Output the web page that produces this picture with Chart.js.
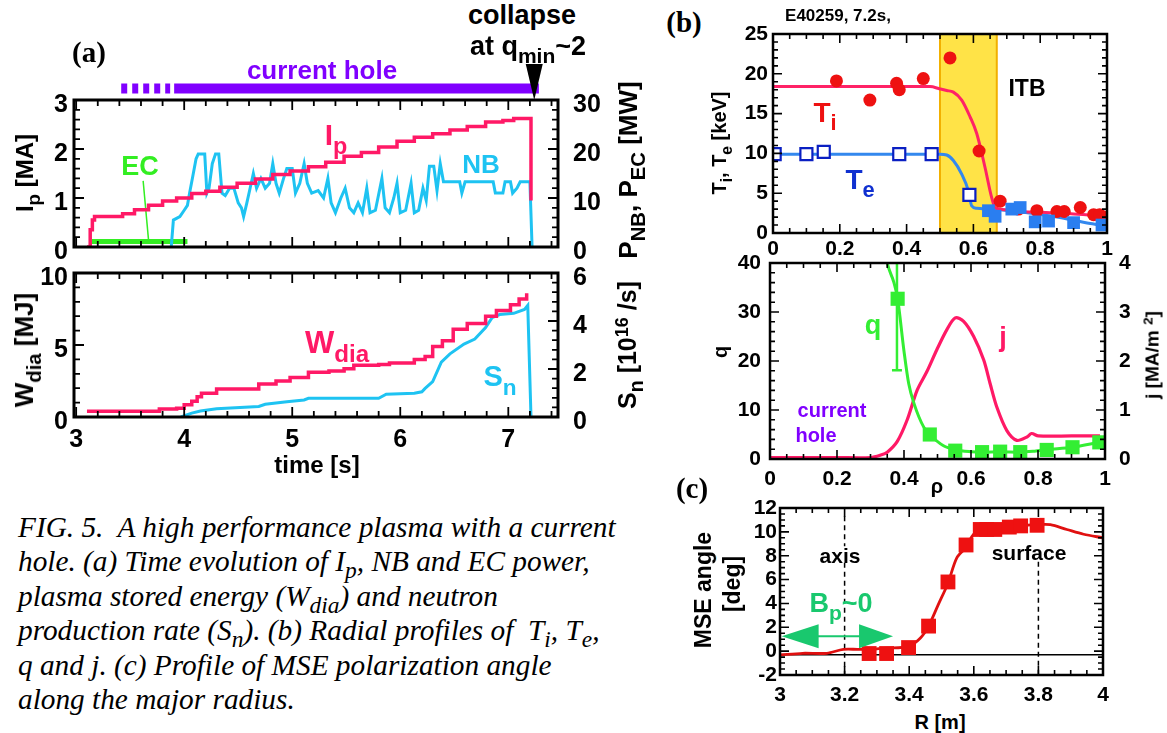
<!DOCTYPE html>
<html>
<head>
<meta charset="utf-8">
<script src="https://cdn.jsdelivr.net/npm/chart.js@4.4.0/dist/chart.umd.min.js"></script>
<style>
  body { margin: 0; background: #fff; width: 1167px; height: 733px; overflow: hidden; position: relative;
         font-family: 'Liberation Sans', Arial, sans-serif; }
  canvas { position: absolute; }
  .t { position: absolute; white-space: nowrap; font-weight: bold; line-height: 1; transform: translate(-50%, -50%); z-index: 5; }
  .s { font-size: 0.78em; position: relative; top: 0.38em; }
  .u { font-size: 0.72em; position: relative; top: -0.45em; }
  #cap { position: absolute; left: 18px; top: 510px; font-family: 'Liberation Serif', 'Times New Roman', serif;
         font-style: italic; font-size: 29.3px; line-height: 34.4px; white-space: nowrap; }
  #cap sub { font-size: 0.8em; line-height: 0; vertical-align: -0.3em; }
</style>
</head>
<body>
<canvas id="a1"></canvas>
<canvas id="a2"></canvas>
<canvas id="b1"></canvas>
<canvas id="b2"></canvas>
<canvas id="c1"></canvas>
<div id="cap">FIG. 5.&nbsp; A high performance plasma with a current<br>hole. (a) Time evolution of I<sub>p</sub>, NB and EC power,<br>plasma stored energy (W<sub>dia</sub>) and neutron<br>production rate (S<sub>n</sub>). (b) Radial profiles of &nbsp;T<sub>i</sub>, T<sub>e</sub>,<br>q and j. (c) Profile of MSE polarization angle<br>along the major radius.</div>
<script>
// ---------- (a) time traces ----------
const timeTicks = [3, 4, 5, 6, 7];
const ipTicks = [0, 1, 2, 3];
const pTicks = [0, 10, 20, 30];
const wTicks = [0, 5, 10];
const snTicks = [0, 2, 4, 6];

const ipTime = [3.10, 3.13, 3.15, 3.17, 3.25, 3.43, 3.54, 3.67, 3.80, 3.93, 4.07, 4.20, 4.33, 4.49, 4.66, 4.82, 4.98, 5.15, 5.31, 5.48, 5.64, 5.80, 5.97, 6.13, 6.30, 6.46, 6.62, 6.79, 6.95, 7.05, 7.19, 7.21];
const ipVal  = [0, 0.35, 0.55, 0.62, 0.62, 0.68, 0.76, 0.85, 0.94, 1.00, 1.09, 1.14, 1.22, 1.30, 1.39, 1.48, 1.55, 1.64, 1.73, 1.85, 1.93, 2.04, 2.16, 2.24, 2.31, 2.39, 2.46, 2.55, 2.58, 2.62, 2.62, 0.95];

const nbTime = [3.88, 3.90, 3.96, 4.00, 4.03, 4.05, 4.08, 4.11, 4.13, 4.19, 4.21, 4.23, 4.26, 4.29, 4.32, 4.35, 4.38, 4.42, 4.46, 4.50, 4.53, 4.55, 4.58, 4.61, 4.64, 4.67, 4.71, 4.75, 4.79, 4.82, 4.85, 4.88, 4.92, 4.95, 5.00, 5.03, 5.07, 5.11, 5.14, 5.18, 5.24, 5.29, 5.33, 5.36, 5.40, 5.45, 5.49, 5.53, 5.57, 5.61, 5.65, 5.69, 5.72, 5.77, 5.83, 5.86, 5.90, 5.94, 5.97, 6.00, 6.05, 6.10, 6.13, 6.17, 6.21, 6.24, 6.27, 6.31, 6.34, 6.37, 6.40, 6.55, 6.57, 6.60, 6.86, 6.88, 6.95, 6.97, 7.02, 7.04, 7.08, 7.11, 7.20, 7.22];
const nbVal  = [0, 5.5, 6.2, 7.5, 8.5, 11, 14.5, 18, 19, 19, 11, 12, 17, 19, 19, 11, 10.5, 12, 12, 9, 8, 6.2, 9, 12, 15, 12, 14, 12, 13, 17, 13, 11, 14, 16, 16, 11, 13, 17, 13, 11, 11.5, 10, 14, 9, 7, 10, 12, 8, 7, 9, 7, 12, 7, 7.5, 14, 8, 7, 10, 13, 7, 7.5, 13, 7, 7.5, 12, 9.5, 16.5, 16.5, 11.5, 17, 13.3, 13.3, 11, 13.3, 13.3, 11, 11, 13.3, 13.3, 11, 12, 13.3, 13.3, 0];

const ecTime = [3.14, 4.03];
const ecVal  = [1.1, 1.1];
const ecPointerTime = [3.62, 3.67];
const ecPointerVal  = [13.5, 1.4];

const holeDash = [3.417, 3.87];
const holeSolid = [3.907, 7.283];
const collapseTime = 7.24;

const wTime = [3.10, 3.75, 3.77, 3.93, 4.00, 4.07, 4.12, 4.16, 4.30, 4.62, 4.69, 4.85, 4.98, 5.15, 5.34, 5.48, 5.57, 5.80, 5.90, 6.13, 6.23, 6.30, 6.39, 6.49, 6.62, 6.79, 6.89, 7.02, 7.10, 7.17];
const wVal  = [0.4, 0.4, 0.55, 0.6, 0.85, 1.1, 1.4, 1.65, 1.95, 1.95, 2.3, 2.5, 2.75, 3.1, 3.2, 3.35, 3.6, 3.65, 3.75, 4.0, 4.2, 4.9, 5.3, 6.1, 6.5, 7.0, 7.4, 7.8, 8.2, 8.6];

const snTime = [3.97, 4.07, 4.15, 4.30, 4.69, 4.75, 4.95, 5.11, 5.15, 5.80, 5.87, 6.13, 6.20, 6.23, 6.30, 6.38, 6.46, 6.59, 6.69, 6.79, 6.85, 6.92, 7.05, 7.15, 7.18, 7.21];
const snVal  = [0, 0.16, 0.25, 0.34, 0.44, 0.53, 0.64, 0.71, 0.78, 0.78, 0.95, 0.99, 1.05, 1.19, 1.47, 2.29, 2.63, 3.04, 3.25, 3.73, 4.14, 4.27, 4.32, 4.48, 4.65, 0];

// ---------- (b) radial profiles ----------
const rhoTicks = [0, 0.2, 0.4, 0.6, 0.8, 1];
const tTicks = [0, 5, 10, 15, 20, 25];
const qTicks = [0, 10, 20, 30, 40];
const jTicks = [0, 1, 2, 3, 4];
const itbBand = [0.5, 0.67];

const tiRho = [0.19, 0.29, 0.37, 0.378, 0.45, 0.53, 0.617, 0.68, 0.735, 0.79, 0.85, 0.872, 0.92, 0.96, 0.978, 1.0];
const tiVal = [19.1, 16.7, 18.8, 18.0, 19.4, 22.0, 10.3, 4.0, 3.0, 2.8, 2.7, 2.7, 3.2, 2.3, 2.3, 2.0];
const tiFitRho = [0, 0.2, 0.47, 0.5, 0.52, 0.54, 0.565, 0.59, 0.61, 0.635, 0.655, 0.665, 0.7, 0.74, 0.8, 0.9, 1.0];
const tiFit    = [18.4, 18.4, 18.4, 18.1, 17.9, 17.7, 16.7, 14.6, 12.5, 8.2, 4.4, 3.2, 2.9, 2.7, 2.6, 2.4, 2.1];

const teOpenRho = [0.005, 0.10, 0.152, 0.378, 0.475, 0.588];
const teOpen    = [9.9, 9.9, 10.2, 9.9, 9.9, 4.8];
const teRho = [0.645, 0.665, 0.715, 0.74, 0.785, 0.825, 0.9, 0.985];
const teVal = [2.8, 2.1, 3.0, 3.2, 1.4, 1.5, 1.3, 1.0];
const teFitRho = [0, 0.3, 0.5, 0.52, 0.54, 0.565, 0.585, 0.595, 0.61, 0.65, 0.75, 0.85, 0.95, 1.0];
const teFit    = [9.9, 9.9, 9.9, 9.8, 9.1, 7.4, 5.3, 3.4, 3.1, 3.0, 2.6, 2.0, 1.2, 0.9];

const qRho  = [0.345, 0.35, 0.37, 0.381, 0.40, 0.414, 0.43, 0.459, 0.477, 0.518, 0.553, 0.60, 0.633, 0.687, 0.747, 0.79, 0.826, 0.903, 0.983];
const qLine = [42, 40, 36, 32.7, 22, 15.4, 11.3, 6.5, 5.0, 2.7, 1.9, 1.5, 1.4, 1.5, 1.4, 1.6, 1.9, 2.4, 3.4];
const qSqRho = [0.381, 0.477, 0.553, 0.633, 0.687, 0.747, 0.826, 0.903, 0.983];
const qSq    = [32.7, 5.0, 1.7, 1.4, 1.5, 1.4, 1.85, 2.4, 3.4];
const qErrRho = 0.379, qErrLow = 18.1, qErrHigh = 45;

const jRho = [0, 0.1, 0.2, 0.3, 0.33, 0.35, 0.38, 0.409, 0.439, 0.468, 0.498, 0.528, 0.553, 0.578, 0.608, 0.638, 0.657, 0.677, 0.707, 0.737, 0.767, 0.781, 0.801, 0.9, 0.985];
const jVal = [0.03, 0.03, 0.03, 0.03, 0.08, 0.14, 0.36, 0.79, 1.4, 1.78, 2.23, 2.64, 2.88, 2.81, 2.5, 2.02, 1.54, 1.06, 0.58, 0.38, 0.45, 0.52, 0.47, 0.47, 0.47];

// ---------- (c) MSE angle ----------
const rTicks = [3, 3.2, 3.4, 3.6, 3.8, 4];
const mseTicks = [-2, 0, 2, 4, 6, 8, 10, 12];
const mseR    = [3.0, 3.07, 3.145, 3.196, 3.24, 3.276, 3.33, 3.398, 3.434, 3.46, 3.49, 3.52, 3.547, 3.576, 3.594, 3.615, 3.645, 3.66, 3.708, 3.744, 3.795, 3.837, 3.888, 3.94, 4.0];
const mseLine = [-0.32, -0.18, -0.18, 0.15, 0.15, 0.15, 0.25, 0.4, 1.08, 2.1, 3.9, 5.7, 7.8, 8.7, 9.6, 10.2, 10.2, 10.2, 10.3, 10.5, 10.6, 10.6, 10.2, 9.8, 9.5];
const mseSqR = [3.276, 3.33, 3.398, 3.46, 3.52, 3.576, 3.62, 3.64, 3.665, 3.71, 3.745, 3.796];
const mseSq  = [-0.2, -0.2, 0.3, 2.1, 5.8, 8.9, 10.2, 10.2, 10.2, 10.4, 10.5, 10.55];
const axisR = 3.2, surfaceR = 3.8, zeroLevel = -0.3;
const bpArrow = [3.005, 3.35], bpLevel = 1.25;

// ---------- helpers ----------
const PINK = '#ff1966', CYAN = '#1ec3f2', GREEN = '#33ee22', PURPLE = '#8000ff';
const xy = (a, b) => a.map((v, i) => ({ x: v, y: b[i] }));
const useTicks = arr => s => { s.ticks = arr.map(v => ({ value: v })); };
const bold = size => ({ family: "'Liberation Sans', Arial, sans-serif", size, weight: 'bold' });

function axis(pos, min, max, ticks, size, pad, fit, shift = 0) {
  const a = {
    type: 'linear', position: pos, min, max, display: true,
    grid: { display: false, drawTicks: false }, border: { display: false },
    ticks: { color: '#000', font: bold(size), padding: pad, autoSkip: false, maxRotation: 0,
             labelOffset: shift, callback: v => String(v) },
    afterBuildTicks: useTicks(ticks)
  };
  if (fit != null) a.afterFit = s => { if (pos === 'bottom') s.height = fit; else s.width = fit; };
  return a;
}

// tick values between min and max every step (integer counting, no drift)
function steps(min, max, step) {
  const out = [];
  const k0 = Math.ceil(min / step - 1e-6), k1 = Math.floor(max / step + 1e-6);
  for (let k = k0; k <= k1; k++) out.push({ v: k * step, k });
  return out;
}

// box around the plot area, inward major/minor ticks on all four sides
function drawFrame(chart, o) {
  const ctx = chart.ctx, a = chart.chartArea;
  const sx = chart.scales.x, sy = chart.scales.y, sr = o.y2 ? chart.scales.y2 : chart.scales.y;
  const ry = o.y2 || o.y;
  const per = (major, minor) => Math.round(major / minor);
  ctx.save();
  ctx.globalAlpha = 1;
  ctx.globalCompositeOperation = 'source-over';
  ctx.setLineDash([]);
  ctx.strokeStyle = '#000';
  ctx.lineWidth = o.tw;
  ctx.beginPath();
  for (const t of steps(sx.min, sx.max, o.x[1])) {
    const L = (t.k % per(o.x[0], o.x[1]) === 0) ? o.len[0] : o.len[1];
    const p = sx.getPixelForValue(t.v);
    ctx.moveTo(p, a.bottom); ctx.lineTo(p, a.bottom - L);
    ctx.moveTo(p, a.top); ctx.lineTo(p, a.top + L);
  }
  for (const t of steps(sy.min, sy.max, o.y[1])) {
    const L = (t.k % per(o.y[0], o.y[1]) === 0) ? o.len[0] : o.len[1];
    const p = sy.getPixelForValue(t.v);
    ctx.moveTo(a.left, p); ctx.lineTo(a.left + L, p);
  }
  for (const t of steps(sr.min, sr.max, ry[1])) {
    const L = (t.k % per(ry[0], ry[1]) === 0) ? o.len[0] : o.len[1];
    const p = sr.getPixelForValue(t.v);
    ctx.moveTo(a.right, p); ctx.lineTo(a.right - L, p);
  }
  ctx.stroke();
  ctx.lineWidth = o.lw;
  ctx.strokeRect(a.left, a.top, a.right - a.left, a.bottom - a.top);
  ctx.restore();
}

function make(id, box, m, scales, datasets, frameOpts, plugins, hasY2, showX) {
  const c = document.getElementById(id);
  const w = box[2] - box[0] + m[1] + m[3], h = box[3] - box[1] + m[0] + m[2];
  c.width = w; c.height = h;
  c.style.left = (box[0] - m[3]) + 'px'; c.style.top = (box[1] - m[0]) + 'px';
  c.style.width = w + 'px'; c.style.height = h + 'px';
  const chart = new Chart(c, {
    type: 'scatter',
    data: { datasets },
    options: {
      responsive: false, animation: false, devicePixelRatio: 1,
      layout: { padding: { top: m[0], right: hasY2 ? 0 : m[1], bottom: showX ? 0 : m[2], left: 0 } },
      plugins: { legend: { display: false }, tooltip: { enabled: false } },
      scales
    },
    plugins
  });
  drawFrame(chart, frameOpts);
  return chart;
}

const line = (data, color, width, extra = {}) => Object.assign({ data, showLine: true, borderColor: color, borderWidth: width, pointRadius: 0, fill: false }, extra);
const pts = (data, style, r, fillC, strokeC, bw) => ({ data, showLine: false, pointStyle: style, pointRadius: r, backgroundColor: fillC, borderColor: strokeC, borderWidth: bw });

// ---------- chart (a) top ----------
const holePlugin = {
  id: 'hole',
  afterDraw(chart) {
    const { ctx, chartArea: a, scales: { x } } = chart;
    const y = a.top - 11.5;
    ctx.save();
    ctx.strokeStyle = PURPLE; ctx.lineWidth = 10; ctx.lineCap = 'butt';
    ctx.setLineDash([6, 5]);
    ctx.beginPath(); ctx.moveTo(x.getPixelForValue(holeDash[0]), y); ctx.lineTo(x.getPixelForValue(holeDash[1]), y); ctx.stroke();
    ctx.setLineDash([]);
    ctx.beginPath(); ctx.moveTo(x.getPixelForValue(holeSolid[0]), y); ctx.lineTo(x.getPixelForValue(holeSolid[1]), y); ctx.stroke();
    const cx = x.getPixelForValue(collapseTime);
    ctx.fillStyle = '#000';
    ctx.beginPath(); ctx.moveTo(cx - 8.5, a.top - 36); ctx.lineTo(cx + 8.5, a.top - 36); ctx.lineTo(cx, a.top); ctx.closePath(); ctx.fill();
    ctx.restore();
  }
};
const aTop = axis('bottom', 2.98, 7.46, timeTicks, 25, 8, null);
aTop.display = false;
make('a1', [74, 100, 558, 247], [40, 60, 36, 70], {
  x: aTop,
  y: axis('left', 0, 3, ipTicks, 25, 6, 70, 5),
  y2: axis('right', 0, 30, pTicks, 25, 15, 60, 5)
}, [
  line(xy(ipTime, ipVal), PINK, 3.5, { stepped: true }),
  line(xy(ecPointerTime, ecPointerVal), GREEN, 1.5, { yAxisID: 'y2' }),
  line(xy(nbTime, nbVal), CYAN, 3, { yAxisID: 'y2' }),
  line(xy(ecTime, ecVal), GREEN, 5, { yAxisID: 'y2' })
], { lw: 3, tw: 1.8, len: [10, 6], x: [1, 0.2], y: [1, 0.2], y2: [10, 2] }, [holePlugin], true, false);

// ---------- chart (a) bottom ----------
make('a2', [74, 273, 558, 417], [36, 60, 38, 70], {
  x: axis('bottom', 2.98, 7.46, timeTicks, 25, 8, 38),
  y: axis('left', 0, 10, wTicks, 25, 6, 70, 5),
  y2: axis('right', 0, 6, snTicks, 25, 15, 60, 5)
}, [
  line(xy(wTime, wVal), PINK, 3.5, { stepped: true }),
  line(xy(snTime, snVal), CYAN, 3, { yAxisID: 'y2' })
], { lw: 3, tw: 1.8, len: [10, 6], x: [1, 0.2], y: [5, 1], y2: [2, 0.4] }, [], true, true);

// ---------- chart (b) top ----------
const bandPlugin = {
  id: 'band',
  beforeDatasetsDraw(chart) {
    const { ctx, chartArea: a, scales: { x } } = chart;
    const x0 = x.getPixelForValue(itbBand[0]), x1 = x.getPixelForValue(itbBand[1]);
    ctx.save();
    ctx.fillStyle = '#ffe347';
    ctx.fillRect(x0, a.top, x1 - x0, a.bottom - a.top);
    ctx.strokeStyle = '#f2b000'; ctx.lineWidth = 2;
    ctx.beginPath(); ctx.moveTo(x0, a.top); ctx.lineTo(x0, a.bottom); ctx.moveTo(x1, a.top); ctx.lineTo(x1, a.bottom); ctx.stroke();
    ctx.restore();
  }
};
make('b1', [773, 34, 1107, 233], [22, 14, 28, 45], {
  x: axis('bottom', 0, 1, rhoTicks, 21, 4, 28),
  y: axis('left', 0, 25, tTicks, 21, 5, 45)
}, [
  pts(xy(teRho, teVal), 'rect', 9, '#2a7ef0', '#2a7ef0', 0),
  pts(xy(teOpenRho, teOpen), 'rect', 8.5, '#ffffff', '#0a1fc2', 2.2),
  pts(xy(tiRho, tiVal), 'circle', 6.5, '#ee1111', '#ee1111', 0),
  line(xy(tiFitRho, tiFit), '#ff2266', 3, { cubicInterpolationMode: 'monotone' }),
  line(xy(teFitRho, teFit), '#3388ee', 3, { cubicInterpolationMode: 'monotone' })
], { lw: 2.5, tw: 1.6, len: [9, 5], x: [0.2, 0.05], y: [5, 1] }, [bandPlugin], false, true);

// ---------- chart (b) bottom ----------
const errPlugin = {
  id: 'err',
  afterDatasetsDraw(chart) {
    const { ctx, chartArea: a, scales: { x, y } } = chart;
    const px = x.getPixelForValue(qErrRho);
    ctx.save();
    ctx.beginPath(); ctx.rect(a.left, a.top, a.right - a.left, a.bottom - a.top); ctx.clip();
    ctx.strokeStyle = '#33ee33'; ctx.lineWidth = 2.5;
    ctx.beginPath();
    ctx.moveTo(px, y.getPixelForValue(qErrHigh)); ctx.lineTo(px, y.getPixelForValue(qErrLow));
    ctx.moveTo(px - 5, y.getPixelForValue(qErrLow)); ctx.lineTo(px + 5, y.getPixelForValue(qErrLow));
    ctx.stroke();
    ctx.restore();
  }
};
make('b2', [770, 263, 1105, 459], [32, 40, 28, 45], {
  x: axis('bottom', 0, 1, rhoTicks, 21, 8, 28),
  y: axis('left', 0, 40, qTicks, 21, 9, 45),
  y2: axis('right', 0, 4, jTicks, 21, 14, 40)
}, [
  pts(xy(qSqRho, qSq), 'rect', 10, '#33ee33', '#33ee33', 0),
  line(xy(qRho, qLine), '#33ee33', 3, { cubicInterpolationMode: 'monotone' }),
  line(xy(jRho, jVal), PINK, 3.2, { yAxisID: 'y2', tension: 0.3 })
], { lw: 2.5, tw: 1.6, len: [9, 5], x: [0.2, 0.05], y: [10, 2], y2: [1, 0.2] }, [errPlugin], true, true);

// ---------- chart (c) ----------
const arrowPlugin = {
  id: 'arrow',
  afterDatasetsDraw(chart) {
    const { ctx, scales: { x, y } } = chart;
    const x0 = x.getPixelForValue(bpArrow[0]), x1 = x.getPixelForValue(bpArrow[1]), py = y.getPixelForValue(bpLevel);
    ctx.save();
    ctx.strokeStyle = '#19c86e'; ctx.fillStyle = '#19c86e'; ctx.lineWidth = 2;
    ctx.beginPath(); ctx.moveTo(x0 + 30, py); ctx.lineTo(x1 - 30, py); ctx.stroke();
    ctx.beginPath(); ctx.moveTo(x0, py); ctx.lineTo(x0 + 37, py - 12); ctx.lineTo(x0 + 37, py + 12); ctx.closePath(); ctx.fill();
    ctx.beginPath(); ctx.moveTo(x1, py); ctx.lineTo(x1 - 34, py - 12); ctx.lineTo(x1 - 34, py + 12); ctx.closePath(); ctx.fill();
    ctx.restore();
  }
};
const dash = (data) => line(data, '#000', 1.5, { borderDash: [5, 4] });
make('c1', [780, 508, 1103, 675], [22, 14, 30, 45], {
  x: axis('bottom', 3, 4, rTicks, 21, 8, 30),
  y: axis('left', -2, 12, mseTicks, 21, 3, 45)
}, [
  pts(xy(mseSqR, mseSq), 'rect', 10.5, '#ee1111', '#ee1111', 0),
  line(xy(mseR, mseLine), '#e01010', 2.8, { tension: 0.3 }),
  line(xy([3, 4.01], [zeroLevel, zeroLevel]), '#000', 1.6),
  dash(xy([axisR, axisR], [11.3, 8.8])),
  dash(xy([axisR, axisR], [7.4, -2])),
  dash(xy([surfaceR, surfaceR], [7.5, -2]))
], { lw: 2.5, tw: 1.6, len: [9, 5], x: [0.2, 0.05], y: [2, 0.5] }, [arrowPlugin], false, true);

// ---------- text labels ----------
function lab(html, x, y, size, color, extra) {
  const d = document.createElement('div');
  d.className = 't';
  d.innerHTML = html;
  d.style.left = x + 'px'; d.style.top = y + 'px';
  d.style.fontSize = size + 'px';
  d.style.color = color || '#000';
  if (extra) Object.assign(d.style, extra);
  document.body.appendChild(d);
}
const rot = { transform: 'translate(-50%, -50%) rotate(-90deg)' };
const serif = { fontFamily: "'Liberation Serif', 'Times New Roman', serif" };

lab('(a)', 89, 52, 29, '#000', serif);
lab('current hole', 322, 70, 26, PURPLE);
lab('collapse', 522, 15, 27);
lab('at q<span class="s">min</span>~2', 528, 46, 27);
lab('I<span class="s">p</span>', 336, 135, 30, PINK);
lab('NB', 481, 164, 26, CYAN);
lab('EC', 140, 166, 27, GREEN);
lab('W<span class="s">dia</span>', 337, 342, 31, PINK);
lab('S<span class="s">n</span>', 500, 376, 29, CYAN);
lab('time [s]', 317, 465, 24);
lab('I<span class="s">p</span> [MA]', 25, 173, 24, '#000', rot);
lab('W<span class="s">dia</span> [MJ]', 24, 350, 26, '#000', rot);
lab('P<span class="s">NB</span>, P<span class="s">EC</span> [MW]', 628, 170, 26, '#000', rot);
lab('S<span class="s">n</span> [10<span class="u">16</span> /s]', 627, 345, 25, '#000', rot);

lab('(b)', 684, 22, 29, '#000', serif);
lab('E40259, 7.2s,', 838, 15, 17);
lab('ITB', 1027, 88, 23);
lab('T<span class="s">i</span>', 825, 113, 28, '#ee1111');
lab('T<span class="s">e</span>', 860, 180, 28, '#1030d0');
lab('T<span class="s">i</span>, T<span class="s">e</span> [keV]', 719, 143, 20, '#000', rot);
lab('q', 720, 352, 20, '#000', rot);
lab('j [MA/m <span class="u">2</span>]', 1152, 355, 19, '#000', rot);
lab('q', 873, 325, 27, '#33ee33');
lab('j', 1003, 337, 27, PINK);
lab('current', 832, 410, 20, PURPLE);
lab('hole', 816, 435, 20, PURPLE);
lab('ρ', 937, 486, 20);

lab('(c)', 692, 488, 29, '#000', serif);
lab('MSE angle', 703, 590, 23, '#000', rot);
lab('[deg]', 732, 584, 23, '#000', rot);
lab('axis', 840, 555, 21);
lab('surface', 1029, 552, 21);
lab('B<span class="s">p</span>~0', 841, 603, 27, '#19c86e');
lab('R [m]', 940, 722, 20);
</script>
</body>
</html>
